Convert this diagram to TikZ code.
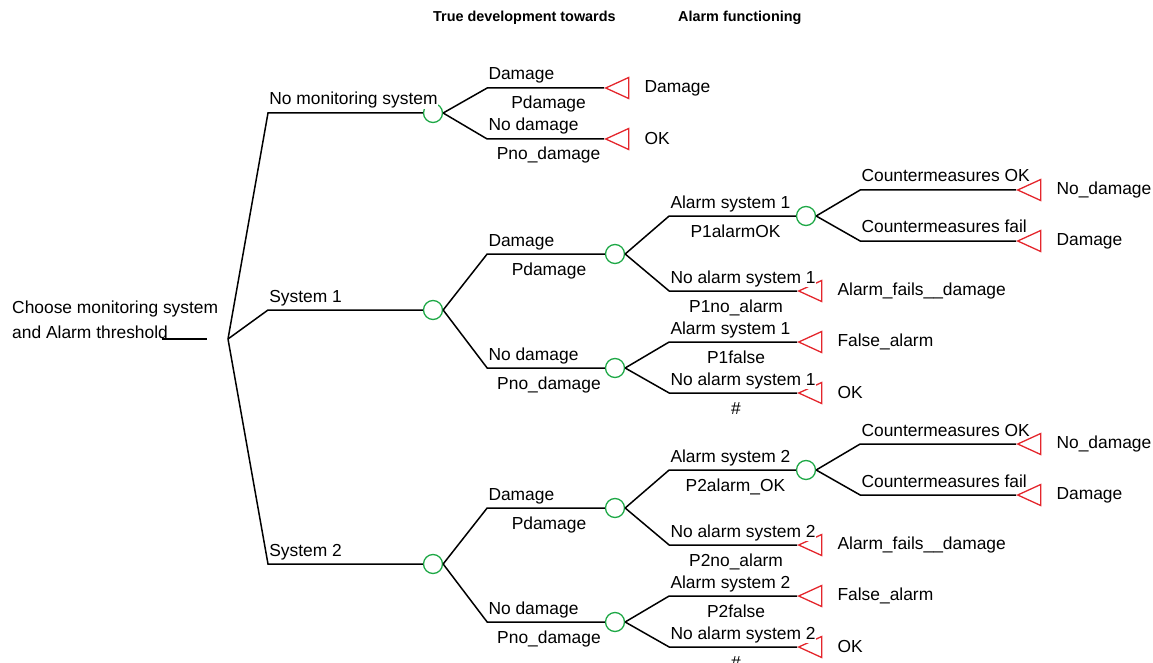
\documentclass[tikz,border=0pt]{standalone}
\usepackage{fontspec}
\setmainfont{Liberation Sans}
\usetikzlibrary{shapes.geometric, positioning}
\definecolor{chancegreen}{RGB}{30,168,70}
\definecolor{termred}{RGB}{228,38,44}
\tikzset{
  chance/.style={circle,draw=chancegreen,line width=1.3pt,minimum size=19pt,inner sep=0pt},
  term/.style={isosceles triangle,isosceles triangle stretches,shape border rotate=180,
    minimum width=21pt,minimum height=23pt,inner sep=0pt,draw=termred,line width=1.3pt,anchor=apex},
  branch/.style={line width=1.5pt},
  up/.style={anchor=base west,fill=white,inner sep=0.6pt,yshift=8pt},
  down/.style={anchor=base,fill=white,inner sep=0.6pt,yshift=-21pt,xshift=3pt},
  outcome/.style={inner sep=0pt},
  header/.style={anchor=base west,inner sep=0pt,font=\bfseries\fontsize{14.4pt}{17pt}\selectfont}
}
\begin{document}
\begin{tikzpicture}[x=1pt,y=-1pt,font=\fontsize{17.4pt}{21pt}\selectfont]
  \useasboundingbox (0,0) rectangle (1153,663);
  \node[header] (h-true) at (433,22) {True development towards};
  \node[header] (h-alarm) at (678,22) {Alarm functioning};

  \node[anchor=west,align=left,inner sep=0pt,font=\fontsize{17.4pt}{25pt}\selectfont]
    (choose) at (12,320) {Choose monitoring system\\and Alarm threshold};
  \coordinate (stub-a) at (162,339);
  \coordinate (stub-b) at (207,339);
  \coordinate (root) at (228,339);
  \draw[branch] (stub-a) -- (stub-b);

  \node[chance] (c-nm) at (433,113) {};
  \node[chance] (c-s1) at (433,310) {};
  \node[chance] (c-s2) at (433,564) {};

  % no monitoring system
  \node[term] (t-nm-d) at (604,88) {};
  \node[term] (t-nm-n) at (604,139) {};
  \node[outcome, right=15pt of t-nm-d] (o-nm-d) {Damage};
  \node[outcome, right=15pt of t-nm-n] (o-nm-n) {OK};

  % system 1
  \node[chance] (c-s1-d) at (615,254) {};
  \node[chance] (c-s1-n) at (615,368) {};
  \node[chance] (c-s1-a) at (806,216) {};
  \node[term] (t-s1-cok) at (1016,190) {};
  \node[term] (t-s1-cf) at (1016,241) {};
  \node[term] (t-s1-na) at (797,291) {};
  \node[term] (t-s1-fa) at (797,342) {};
  \node[term] (t-s1-ok) at (797,393) {};
  \node[outcome, right=15pt of t-s1-cok] (o-s1-cok) {No\_damage};
  \node[outcome, right=15pt of t-s1-cf] (o-s1-cf) {Damage};
  \node[outcome, right=15pt of t-s1-na] (o-s1-na) {Alarm\_fails\_\_damage};
  \node[outcome, right=15pt of t-s1-fa] (o-s1-fa) {False\_alarm};
  \node[outcome, right=15pt of t-s1-ok] (o-s1-ok) {OK};

  % system 2
  \node[chance] (c-s2-d) at (615,508) {};
  \node[chance] (c-s2-n) at (615,622) {};
  \node[chance] (c-s2-a) at (806,470) {};
  \node[term] (t-s2-cok) at (1016,444) {};
  \node[term] (t-s2-cf) at (1016,495) {};
  \node[term] (t-s2-na) at (797,545) {};
  \node[term] (t-s2-fa) at (797,596) {};
  \node[term] (t-s2-ok) at (797,647) {};
  \node[outcome, right=15pt of t-s2-cok] (o-s2-cok) {No\_damage};
  \node[outcome, right=15pt of t-s2-cf] (o-s2-cf) {Damage};
  \node[outcome, right=15pt of t-s2-na] (o-s2-na) {Alarm\_fails\_\_damage};
  \node[outcome, right=15pt of t-s2-fa] (o-s2-fa) {False\_alarm};
  \node[outcome, right=15pt of t-s2-ok] (o-s2-ok) {OK};

  \draw[branch] (root) -- ++(40,-226) node[up]{No monitoring system} -- (c-nm);
  \draw[branch] (root) -- ++(40,-29) node[up]{System 1} -- (c-s1);
  \draw[branch] (root) -- ++(40,225) node[up]{System 2} -- (c-s2);

  \draw[branch] (c-nm.east) -- ++(44,-25) node[up]{Damage} -- node[down]{Pdamage} (t-nm-d);
  \draw[branch] (c-nm.east) -- ++(44,26) node[up]{No damage} -- node[down]{Pno\_damage} (t-nm-n);

  \draw[branch] (c-s1.east) -- ++(44,-56) node[up]{Damage} -- node[down]{Pdamage} (c-s1-d);
  \draw[branch] (c-s1.east) -- ++(44,58) node[up]{No damage} -- node[down]{Pno\_damage} (c-s1-n);
  \draw[branch] (c-s1-d.east) -- ++(44,-38) node[up]{Alarm system 1} -- node[down]{P1alarmOK} (c-s1-a);
  \draw[branch] (c-s1-d.east) -- ++(44,37) node[up]{No alarm system 1} -- node[down]{P1no\_alarm} (t-s1-na);
  \draw[branch] (c-s1-a.east) -- ++(44,-26) node[up]{Countermeasures OK} -- (t-s1-cok);
  \draw[branch] (c-s1-a.east) -- ++(44,25) node[up]{Countermeasures fail} -- (t-s1-cf);
  \draw[branch] (c-s1-n.east) -- ++(44,-26) node[up]{Alarm system 1} -- node[down]{P1false} (t-s1-fa);
  \draw[branch] (c-s1-n.east) -- ++(44,25) node[up]{No alarm system 1} -- node[down]{\#} (t-s1-ok);

  \draw[branch] (c-s2.east) -- ++(44,-56) node[up]{Damage} -- node[down]{Pdamage} (c-s2-d);
  \draw[branch] (c-s2.east) -- ++(44,58) node[up]{No damage} -- node[down]{Pno\_damage} (c-s2-n);
  \draw[branch] (c-s2-d.east) -- ++(44,-38) node[up]{Alarm system 2} -- node[down]{P2alarm\_OK} (c-s2-a);
  \draw[branch] (c-s2-d.east) -- ++(44,37) node[up]{No alarm system 2} -- node[down]{P2no\_alarm} (t-s2-na);
  \draw[branch] (c-s2-a.east) -- ++(44,-26) node[up]{Countermeasures OK} -- (t-s2-cok);
  \draw[branch] (c-s2-a.east) -- ++(44,25) node[up]{Countermeasures fail} -- (t-s2-cf);
  \draw[branch] (c-s2-n.east) -- ++(44,-26) node[up]{Alarm system 2} -- node[down]{P2false} (t-s2-fa);
  \draw[branch] (c-s2-n.east) -- ++(44,25) node[up]{No alarm system 2} -- node[down]{\#} (t-s2-ok);
\end{tikzpicture}
\end{document}
